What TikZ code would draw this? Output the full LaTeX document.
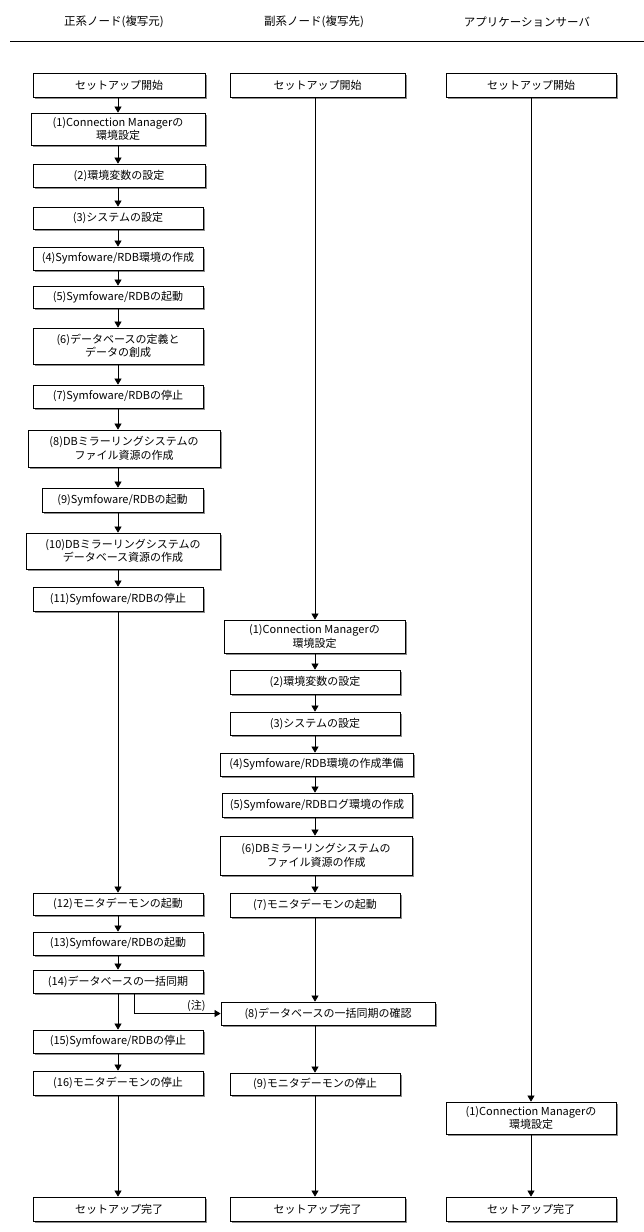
\documentclass[tikz,border=0pt]{standalone}
\usepackage{fontspec}
\setmainfont{Noto Sans CJK JP}
\usetikzlibrary{arrows.meta,shadows}

\begin{document}
\begin{tikzpicture}[x=1pt, y=-1pt,
    box/.style={draw, line width=0.8pt, fill=white, align=center,
      minimum width=170pt, minimum height=23pt, inner sep=1pt,
      font=\fontsize{11}{13.5}\selectfont,
      drop shadow={shadow xshift=2pt, shadow yshift=-2pt, fill=black!45, opacity=1}},
    arr/.style={line width=0.7pt, -{Triangle[length=6pt,width=7pt]}},
    head/.style={font=\fontsize{11.5}{14}\selectfont}
    ]
    \useasboundingbox[fill=white] (0,0) rectangle (644,1232);
    % headings
    \node[head] (h1) at (114,22) {正系ノード(複写元)};
    \node[head] (h2) at (314,22) {副系ノード(複写先)};
    \node[head] (h3) at (527,22) {アプリケーションサーバ};
    \draw[line width=0.8pt] (10,41) coordinate (ha) -- (644,41) coordinate (hb);

    % primary node
    \node[box, minimum width=172pt, minimum height=24pt] (l0) at (119,85) {セットアップ開始};
    \node[box, minimum width=174pt, minimum height=32pt] (l1) at (118,129) {(1)Connection Managerの\\環境設定};
    \node[box, minimum width=172pt] (l2) at (119,175.5) {(2)環境変数の設定};
    \node[box, minimum height=22pt] (l3) at (118,218) {(3)システムの設定};
    \node[box] (l4) at (118,258.5) {(4)Symfoware/RDB環境の作成};
    \node[box, minimum height=22pt] (l5) at (118,297) {(5)Symfoware/RDBの起動};
    \node[box, minimum height=36pt] (l6) at (118,346) {(6)データベースの定義と\\データの創成};
    \node[box] (l7) at (118,396.5) {(7)Symfoware/RDBの停止};
    \node[box, minimum width=192pt, minimum height=37pt] (l8) at (124,448.5) {(8)DBミラーリングシステムの\\ファイル資源の作成};
    \node[box, minimum width=161pt, minimum height=24pt] (l9) at (122.5,500) {(9)Symfoware/RDBの起動};
    \node[box, minimum width=194pt, minimum height=36pt] (l10) at (123,551) {(10)DBミラーリングシステムの\\データベース資源の作成};
    \node[box, minimum height=24pt] (l11) at (118,599) {(11)Symfoware/RDBの停止};
    \node[box, minimum height=22pt] (l12) at (118,904) {(12)モニタデーモンの起動};
    \node[box] (l13) at (118,943.5) {(13)Symfoware/RDBの起動};
    \node[box] (l14) at (118,981.5) {(14)データベースの一括同期};
    \node[box] (l15) at (118,1041.5) {(15)Symfoware/RDBの停止};
    \node[box, minimum height=24pt] (l16) at (118,1083) {(16)モニタデーモンの停止};
    \node[box, minimum width=172pt, minimum height=24pt] (l17) at (119,1209) {セットアップ完了};

    % secondary node
    \node[box, minimum width=175pt, minimum height=24pt] (m0) at (317.5,85) {セットアップ開始};
    \node[box, minimum width=181pt, minimum height=33pt] (m1) at (314.5,636.5) {(1)Connection Managerの\\環境設定};
    \node[box, minimum height=24pt] (m2) at (315,682) {(2)環境変数の設定};
    \node[box] (m3) at (315,723.5) {(3)システムの設定};
    \node[box, minimum width=193pt] (m4) at (316.5,764.5) {(4)Symfoware/RDB環境の作成準備};
    \node[box, minimum width=190pt, minimum height=24pt] (m5) at (317,805) {(5)Symfoware/RDBログ環境の作成};
    \node[box, minimum width=192pt, minimum height=39pt] (m6) at (316,855.5) {(6)DBミラーリングシステムの\\ファイル資源の作成};
    \node[box, minimum height=24pt] (m7) at (315,905) {(7)モニタデーモンの起動};
    \node[box, minimum width=214pt] (m8) at (328,1013.5) {(8)データベースの一括同期の確認};
    \node[box, minimum height=22pt] (m9) at (315,1084) {(9)モニタデーモンの停止};
    \node[box, minimum width=175pt, minimum height=24pt] (m10) at (317.5,1209) {セットアップ完了};

    % application server
    \node[box, minimum height=24pt] (r0) at (531,85) {セットアップ開始};
    \node[box, minimum height=32pt] (r1) at (531,1118) {(1)Connection Managerの\\環境設定};
    \node[box, minimum height=24pt] (r2) at (531,1209) {セットアップ完了};

    % connectors
    \draw[arr] (l0.south -| l3) -- (l1.north -| l3);
    \draw[arr] (l1.south -| l3) -- (l2.north -| l3);
    \draw[arr] (l2.south -| l3) -- (l3.north);
    \draw[arr] (l3) -- (l4);
    \draw[arr] (l4) -- (l5);
    \draw[arr] (l5) -- (l6);
    \draw[arr] (l6) -- (l7);
    \draw[arr] (l7.south) -- (l8.north -| l7);
    \draw[arr] (l8.south -| l7) -- (l9.north -| l7);
    \draw[arr] (l9.south -| l7) -- (l10.north -| l7);
    \draw[arr] (l10.south -| l7) -- (l11.north);
    \draw[arr] (l11) -- (l12);
    \draw[arr] (l12) -- (l13);
    \draw[arr] (l13) -- (l14);
    \draw[arr] (l14) -- (l15);
    \draw[arr] (l15) -- (l16);
    \draw[arr] (l16.south -| l15) -- (l17.north -| l15);

    \draw[arr] (m0.south -| m2) -- (m1.north -| m2);
    \draw[arr] (m1.south -| m2) -- (m2.north);
    \draw[arr] (m2) -- (m3);
    \draw[arr] (m3.south) -- (m4.north -| m3);
    \draw[arr] (m4.south -| m3) -- (m5.north -| m3);
    \draw[arr] (m5.south -| m3) -- (m6.north -| m3);
    \draw[arr] (m6.south -| m3) -- (m7.north);
    \draw[arr] (m7.south) -- (m8.north -| m7);
    \draw[arr] (m8.south -| m7) -- (m9.north);
    \draw[arr] (m9.south) -- (m10.north -| m9);

    \draw[arr] (r0) -- (r1);
    \draw[arr] (r1) -- (r2);

    % sync note
    \draw[arr] ([xshift=16pt]l14.south) |- (m8.west)
      node[pos=0.86, above, inner sep=1.5pt, font=\fontsize{11}{13}\selectfont] (note) {(注)};
  \end{tikzpicture}
\end{document}
